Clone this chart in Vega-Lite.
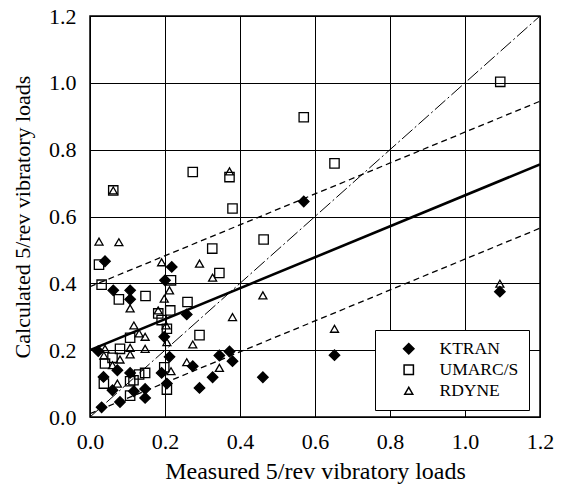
{
  "$schema": "https://vega.github.io/schema/vega-lite/v6.json",
  "width": 450,
  "height": 401,
  "autosize": {"type": "none"},
  "padding": {"left": 90, "top": 16, "right": 24, "bottom": 73},
  "background": "white",
  "config": {
    "view": {"stroke": "black", "strokeWidth": 1.5},
    "font": "Liberation Serif",
    "axis": {
      "labelFont": "Liberation Serif",
      "titleFont": "Liberation Serif",
      "labelFontSize": 22,
      "titleFontSize": 23,
      "titleFontWeight": "normal",
      "labelColor": "black",
      "titleColor": "black",
      "grid": true,
      "gridColor": "black",
      "gridWidth": 1,
      "gridOpacity": 1,
      "domain": false,
      "ticks": false,
      "labelFlush": false,
      "labelOverlap": false
    },
    "legend": {
      "labelFont": "Liberation Serif",
      "labelFontSize": 17.5,
      "labelColor": "black"
    }
  },
  "datasets": {
    "points": [
      {"model": "KTRAN", "measured": 0.57, "calculated": 0.645},
      {"model": "KTRAN", "measured": 1.093, "calculated": 0.375},
      {"model": "KTRAN", "measured": 0.652, "calculated": 0.185},
      {"model": "KTRAN", "measured": 0.04, "calculated": 0.466},
      {"model": "KTRAN", "measured": 0.218, "calculated": 0.449},
      {"model": "KTRAN", "measured": 0.2, "calculated": 0.409},
      {"model": "KTRAN", "measured": 0.062, "calculated": 0.379},
      {"model": "KTRAN", "measured": 0.107, "calculated": 0.379},
      {"model": "KTRAN", "measured": 0.107, "calculated": 0.352},
      {"model": "KTRAN", "measured": 0.258, "calculated": 0.307},
      {"model": "KTRAN", "measured": 0.198, "calculated": 0.24},
      {"model": "KTRAN", "measured": 0.022, "calculated": 0.197},
      {"model": "KTRAN", "measured": 0.212, "calculated": 0.18},
      {"model": "KTRAN", "measured": 0.345, "calculated": 0.184},
      {"model": "KTRAN", "measured": 0.372, "calculated": 0.196},
      {"model": "KTRAN", "measured": 0.38, "calculated": 0.167},
      {"model": "KTRAN", "measured": 0.274, "calculated": 0.152},
      {"model": "KTRAN", "measured": 0.073, "calculated": 0.14},
      {"model": "KTRAN", "measured": 0.036, "calculated": 0.12},
      {"model": "KTRAN", "measured": 0.107, "calculated": 0.132},
      {"model": "KTRAN", "measured": 0.191, "calculated": 0.132},
      {"model": "KTRAN", "measured": 0.327, "calculated": 0.119},
      {"model": "KTRAN", "measured": 0.461, "calculated": 0.119},
      {"model": "KTRAN", "measured": 0.205, "calculated": 0.1},
      {"model": "KTRAN", "measured": 0.06, "calculated": 0.08},
      {"model": "KTRAN", "measured": 0.117, "calculated": 0.077},
      {"model": "KTRAN", "measured": 0.147, "calculated": 0.084},
      {"model": "KTRAN", "measured": 0.292, "calculated": 0.087},
      {"model": "KTRAN", "measured": 0.147, "calculated": 0.057},
      {"model": "KTRAN", "measured": 0.08, "calculated": 0.045},
      {"model": "KTRAN", "measured": 0.031, "calculated": 0.029},
      {"model": "UMARC/S", "measured": 1.094, "calculated": 1.003},
      {"model": "UMARC/S", "measured": 0.57, "calculated": 0.897},
      {"model": "UMARC/S", "measured": 0.652, "calculated": 0.759},
      {"model": "UMARC/S", "measured": 0.274, "calculated": 0.733},
      {"model": "UMARC/S", "measured": 0.372, "calculated": 0.718},
      {"model": "UMARC/S", "measured": 0.062, "calculated": 0.678},
      {"model": "UMARC/S", "measured": 0.38, "calculated": 0.624},
      {"model": "UMARC/S", "measured": 0.463, "calculated": 0.531},
      {"model": "UMARC/S", "measured": 0.326, "calculated": 0.504},
      {"model": "UMARC/S", "measured": 0.024, "calculated": 0.456},
      {"model": "UMARC/S", "measured": 0.345, "calculated": 0.431},
      {"model": "UMARC/S", "measured": 0.031, "calculated": 0.396},
      {"model": "UMARC/S", "measured": 0.216, "calculated": 0.409},
      {"model": "UMARC/S", "measured": 0.077, "calculated": 0.352},
      {"model": "UMARC/S", "measured": 0.148, "calculated": 0.362},
      {"model": "UMARC/S", "measured": 0.26, "calculated": 0.344},
      {"model": "UMARC/S", "measured": 0.182, "calculated": 0.31},
      {"model": "UMARC/S", "measured": 0.214, "calculated": 0.319},
      {"model": "UMARC/S", "measured": 0.191, "calculated": 0.29},
      {"model": "UMARC/S", "measured": 0.205, "calculated": 0.264},
      {"model": "UMARC/S", "measured": 0.107, "calculated": 0.237},
      {"model": "UMARC/S", "measured": 0.292, "calculated": 0.245},
      {"model": "UMARC/S", "measured": 0.08, "calculated": 0.204},
      {"model": "UMARC/S", "measured": 0.06, "calculated": 0.177},
      {"model": "UMARC/S", "measured": 0.04, "calculated": 0.16},
      {"model": "UMARC/S", "measured": 0.198, "calculated": 0.149},
      {"model": "UMARC/S", "measured": 0.147, "calculated": 0.132},
      {"model": "UMARC/S", "measured": 0.131, "calculated": 0.127},
      {"model": "UMARC/S", "measured": 0.037, "calculated": 0.1},
      {"model": "UMARC/S", "measured": 0.116, "calculated": 0.11},
      {"model": "UMARC/S", "measured": 0.107, "calculated": 0.107},
      {"model": "UMARC/S", "measured": 0.205, "calculated": 0.082},
      {"model": "UMARC/S", "measured": 0.107, "calculated": 0.064},
      {"model": "RDYNE", "measured": 1.093, "calculated": 0.399},
      {"model": "RDYNE", "measured": 0.652, "calculated": 0.264},
      {"model": "RDYNE", "measured": 0.372, "calculated": 0.735},
      {"model": "RDYNE", "measured": 0.062, "calculated": 0.678},
      {"model": "RDYNE", "measured": 0.024, "calculated": 0.525},
      {"model": "RDYNE", "measured": 0.077, "calculated": 0.523},
      {"model": "RDYNE", "measured": 0.191, "calculated": 0.463},
      {"model": "RDYNE", "measured": 0.292, "calculated": 0.459},
      {"model": "RDYNE", "measured": 0.327, "calculated": 0.417},
      {"model": "RDYNE", "measured": 0.212, "calculated": 0.379},
      {"model": "RDYNE", "measured": 0.107, "calculated": 0.325},
      {"model": "RDYNE", "measured": 0.198, "calculated": 0.354},
      {"model": "RDYNE", "measured": 0.461, "calculated": 0.364},
      {"model": "RDYNE", "measured": 0.182, "calculated": 0.319},
      {"model": "RDYNE", "measured": 0.203, "calculated": 0.274},
      {"model": "RDYNE", "measured": 0.38, "calculated": 0.299},
      {"model": "RDYNE", "measured": 0.117, "calculated": 0.274},
      {"model": "RDYNE", "measured": 0.131, "calculated": 0.25},
      {"model": "RDYNE", "measured": 0.147, "calculated": 0.24},
      {"model": "RDYNE", "measured": 0.205, "calculated": 0.224},
      {"model": "RDYNE", "measured": 0.274, "calculated": 0.217},
      {"model": "RDYNE", "measured": 0.107, "calculated": 0.207},
      {"model": "RDYNE", "measured": 0.147, "calculated": 0.204},
      {"model": "RDYNE", "measured": 0.04, "calculated": 0.204},
      {"model": "RDYNE", "measured": 0.037, "calculated": 0.184},
      {"model": "RDYNE", "measured": 0.107, "calculated": 0.187},
      {"model": "RDYNE", "measured": 0.08, "calculated": 0.172},
      {"model": "RDYNE", "measured": 0.258, "calculated": 0.164},
      {"model": "RDYNE", "measured": 0.06, "calculated": 0.155},
      {"model": "RDYNE", "measured": 0.345, "calculated": 0.147},
      {"model": "RDYNE", "measured": 0.216, "calculated": 0.137},
      {"model": "RDYNE", "measured": 0.073, "calculated": 0.1}
    ],
    "lines": [
      {"line": "fit", "measured": 0, "calculated": 0.2},
      {"line": "fit", "measured": 1.2, "calculated": 0.756},
      {"line": "upper", "measured": 0, "calculated": 0.39},
      {"line": "upper", "measured": 1.2, "calculated": 0.945},
      {"line": "lower", "measured": 0, "calculated": 0.01},
      {"line": "lower", "measured": 1.2, "calculated": 0.565},
      {"line": "unity", "measured": 0, "calculated": 0},
      {"line": "unity", "measured": 1.2, "calculated": 1.2}
    ]
  },
  "encoding": {
    "x": {
      "field": "measured", "type": "quantitative",
      "scale": {"domain": [0, 1.2], "nice": false},
      "axis": {"values": [0, 0.2, 0.4, 0.6, 0.8, 1.0, 1.2], "format": ".1f", "title": "Measured 5/rev vibratory loads",
        "labelFont": "Liberation Serif", "titleFont": "Liberation Serif", "titleFontSize": 24,
        "labelPadding": 14, "titlePadding": 7, "labelFlush": false}
    },
    "y": {
      "field": "calculated", "type": "quantitative",
      "scale": {"domain": [0, 1.2], "nice": false},
      "axis": {"values": [0, 0.2, 0.4, 0.6, 0.8, 1.0, 1.2], "format": ".1f", "title": "Calculated 5/rev vibratory loads",
        "labelFont": "Liberation Serif", "titleFont": "Liberation Serif", "titleFontSize": 22,
        "labelPadding": 14, "titlePadding": 14, "labelFlush": false}
    }
  },
  "layer": [
    {
      "data": {"name": "lines"},
      "transform": [{"filter": "datum.line === 'unity'"}],
      "mark": {"type": "line", "color": "black", "strokeWidth": 1, "strokeDash": [14, 3, 2, 3], "clip": true},
      "encoding": {}
    },
    {
      "data": {"name": "lines"},
      "transform": [{"filter": "datum.line === 'upper' || datum.line === 'lower'"}],
      "mark": {"type": "line", "color": "black", "strokeWidth": 1.3, "strokeDash": [6, 4], "clip": true},
      "encoding": {"detail": {"field": "line"}}
    },
    {
      "data": {"name": "lines"},
      "transform": [{"filter": "datum.line === 'fit'"}],
      "mark": {"type": "line", "color": "black", "strokeWidth": 2.6, "clip": true},
      "encoding": {}
    },
    {
      "data": {"name": "points"},
      "mark": {"type": "point", "filled": true, "stroke": "black", "strokeWidth": 1.3, "opacity": 1},
      "encoding": {
        "shape": {
          "field": "model", "type": "nominal",
          "scale": {"domain": ["KTRAN", "UMARC/S", "RDYNE"], "range": ["diamond", "square", "triangle-up"]},
          "legend": {
            "title": null, "orient": "none", "legendX": 285, "legendY": 314,
            "padding": 10, "fillColor": "white", "strokeColor": "black",
            "labelFont": "Liberation Serif", "labelFontSize": 17.5,
            "symbolOffset": 15, "labelOffset": 22, "rowPadding": 2, "symbolStrokeColor": "black",
            "encode": {"legend": {"update": {"strokeWidth": {"value": 1.5}}}}
          }
        },
        "fill": {
          "field": "model", "type": "nominal",
          "scale": {"domain": ["KTRAN", "UMARC/S", "RDYNE"], "range": ["black", "transparent", "transparent"]}
        },
        "size": {
          "field": "model", "type": "nominal",
          "scale": {"domain": ["KTRAN", "UMARC/S", "RDYNE"], "range": [110, 64, 60]}
        }
      }
    }
  ]
}
